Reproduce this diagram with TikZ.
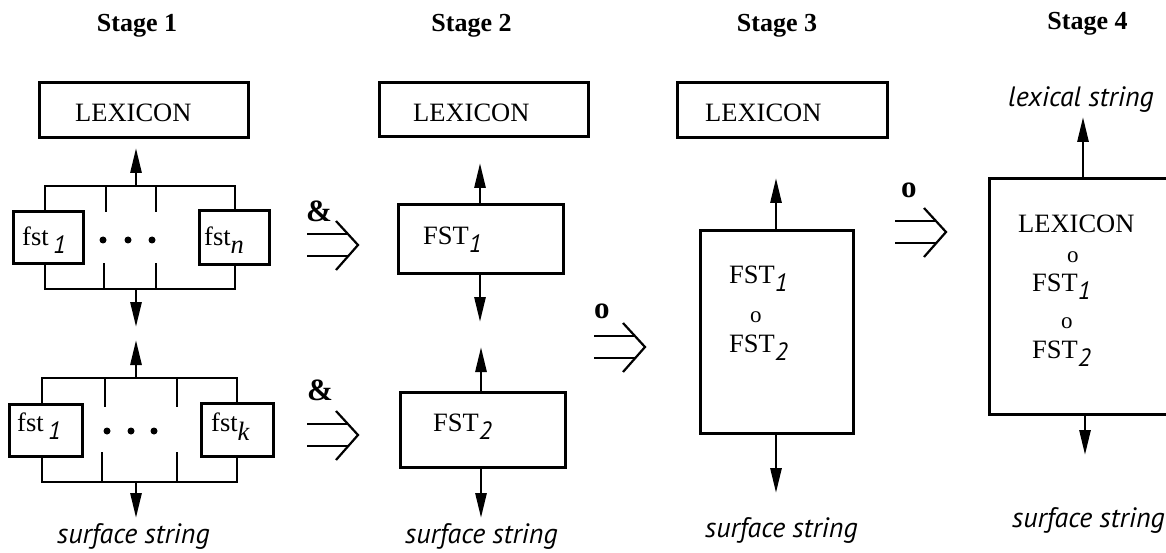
\documentclass[tikz,border=0pt]{standalone}
\usepackage{fontspec}
\setmainfont{Liberation Serif}
\newfontfamily\sansfam{PT Sans}
\usetikzlibrary{arrows.meta}
\newcommand\subs[1]{\raisebox{-8pt}{\fontsize{25}{28}\sansfam\itshape #1}}
\newcommand\subi[1]{\raisebox{-9pt}{\itshape #1}}
\tikzset{
  box/.style={draw, line width=3pt, inner sep=0pt, outer sep=0pt},
  wire/.style={line width=2.8pt},
  arr/.style={line width=2.8pt, -{Triangle[length=25pt,width=11pt]}},
  chev/.style={line width=2.2pt},
  txt/.style={anchor=base west, inner sep=0pt, font=\fontsize{26.5}{30}\selectfont},
  comp/.style={anchor=base west, inner sep=0pt, font=\fontsize{23}{27}\selectfont},
  lbl/.style={anchor=base, inner sep=0pt, font=\fontsize{26}{30}\selectfont\bfseries},
  oplbl/.style={anchor=base west, inner sep=0pt, font=\fontsize{31}{34}\selectfont\bfseries},
  str/.style={anchor=base west, inner sep=0pt, font=\fontsize{28}{32}\selectfont\sansfam\itshape},
  dot/.style={circle, fill, inner sep=0pt, minimum size=7pt},
  implies/.pic={
    \draw[chev] (-22,-24) -- (0,0) -- (-22,25);
    \draw[chev] (-51,-11) -- (-10,-11) (-51,11) -- (-10,11);
  }
}
\begin{document}
\begin{tikzpicture}[x=1pt,y=-1pt]
\clip (0,0) rectangle (1166,553);

% stage labels
\node[lbl] (s1) at (137,32) {Stage 1};
\node[lbl] (s2) at (471.5,32) {Stage 2};
\node[lbl] (s3) at (777,32) {Stage 3};
\node[lbl] (s4) at (1087.5,30) {Stage 4};

% ---------- Stage 1 ----------
\node[box, minimum width=209pt, minimum height=55pt] (lex1) at (143.5,110.5) {};
\node[txt] (lex1t) at (75,122) {LEXICON};

% upper group
\node[box, minimum width=70pt, minimum height=51pt] (fa1) at (48,237.5) {};
\node[box, minimum width=70pt, minimum height=53pt] (fb1) at (234,237.5) {};
\node[txt] (fa1t) at (22,245) {fst\,\subs{1}};
\node[txt] (fb1t) at (204,245) {fst\subi{n}};
\coordinate (u1l) at (45,186); \coordinate (u1r) at (235,186);
\coordinate (d1l) at (45,289); \coordinate (d1r) at (235,289);
\draw[wire] (fa1.north -| u1l) -- (u1l) -- (u1r) -- (fb1.north -| u1r);
\draw[wire] (fa1.south -| d1l) -- (d1l) -- (d1r) -- (fb1.south -| d1r);
\draw[wire] (106,186) -- (106,212) (156,186) -- (156,212)
            (104,263) -- (104,289) (156,263) -- (156,289);
\node[dot] (g1a) at (103,240) {};
\node[dot] (g1b) at (128,240) {};
\node[dot] (g1c) at (152,240) {};
\coordinate (m1t) at (136,186); \coordinate (e1t) at (136,148);
\coordinate (m1b) at (136,289); \coordinate (e1b) at (136,327);
\draw[arr] (m1t) -- (e1t);
\draw[arr] (m1b) -- (e1b);

% lower group
\node[box, minimum width=73pt, minimum height=52pt] (fa2) at (45.5,430) {};
\node[box, minimum width=72pt, minimum height=53pt] (fb2) at (237,429.5) {};
\node[txt] (fa2t) at (17,431) {fst\,\subs{1}};
\node[txt] (fb2t) at (211,431) {fst\subi{k}};
\coordinate (u2l) at (42,378); \coordinate (u2r) at (237,378);
\coordinate (d2l) at (42,482); \coordinate (d2r) at (237,482);
\draw[wire] (fa2.north -| u2l) -- (u2l) -- (u2r) -- (fb2.north -| u2r);
\draw[wire] (fa2.south -| d2l) -- (d2l) -- (d2r) -- (fb2.south -| d2r);
\draw[wire] (105,378) -- (105,407) (177,378) -- (177,407)
            (102,452) -- (102,482) (177,452) -- (177,482);
\node[dot] (g2a) at (107,431) {};
\node[dot] (g2b) at (131,431) {};
\node[dot] (g2c) at (154,431) {};
\coordinate (m2t) at (136,378); \coordinate (e2t) at (136,340);
\coordinate (m2b) at (136,482); \coordinate (e2b) at (136,518);
\draw[arr] (m2t) -- (e2t);
\draw[arr] (m2b) -- (e2b);
\node[str] (ss1) at (57,543) {surface string};

% ---------- arrows 1 -> 2 ----------
\node[oplbl] (amp1) at (306,222) {\&};
\pic at (358,245) {implies};
\node[oplbl] (amp2) at (307,400) {\&};
\pic at (358,435) {implies};

% ---------- Stage 2 ----------
\node[box, minimum width=209pt, minimum height=54pt] (lex2) at (483.5,110) {};
\node[txt] (lex2t) at (413,122) {LEXICON};
\node[box, minimum width=165pt, minimum height=68pt] (F1) at (480.5,239) {};
\node[txt] (F1t) at (423,244) {FST\subs{1}};
\node[box, minimum width=165pt, minimum height=75pt] (F2) at (482.5,429.5) {};
\node[txt] (F2t) at (433,431) {FST\subs{2}};
\coordinate (e3t) at (480,163); \coordinate (e3b) at (480,322);
\coordinate (e4t) at (481,347); \coordinate (e4b) at (481,518);
\draw[arr] (F1.north -| e3t) -- (e3t);
\draw[arr] (F1.south -| e3b) -- (e3b);
\draw[arr] (F2.north -| e4t) -- (e4t);
\draw[arr] (F2.south -| e4b) -- (e4b);
\node[str] (ss2) at (405,543) {surface string};

% ---------- arrow 2 -> 3 ----------
\node[oplbl] (o1) at (594,318) {o};
\pic at (645,347) {implies};

% ---------- Stage 3 ----------
\node[box, minimum width=210pt, minimum height=55pt] (lex3) at (782,110.5) {};
\node[txt] (lex3t) at (705,122) {LEXICON};
\node[box, minimum width=153pt, minimum height=202pt] (B3) at (776.5,332) {};
\node[txt] (B3a) at (729,283) {FST\subs{1}};
\node[comp] (B3o) at (750,322) {o};
\node[txt] (B3b) at (729,352) {FST\subs{2}};
\coordinate (e5t) at (776,178); \coordinate (e5b) at (776,493);
\draw[arr] (B3.north -| e5t) -- (e5t);
\draw[arr] (B3.south -| e5b) -- (e5b);
\node[str] (ss3) at (705,537) {surface string};

% ---------- arrow 3 -> 4 ----------
\node[oplbl] (o2) at (901,198) {o};
\pic at (946,232) {implies};

% ---------- Stage 4 ----------
\node[box, minimum width=196pt, minimum height=235pt] (B4) at (1087,296.5) {};
\node[txt] (B4a) at (1018,233) {LEXICON};
\node[comp] (B4o1) at (1067,262) {o};
\node[txt] (B4b) at (1032,291) {FST\subs{1}};
\node[comp] (B4o2) at (1061,328) {o};
\node[txt] (B4c) at (1032,358) {FST\subs{2}};
\coordinate (e6t) at (1083,117); \coordinate (e6b) at (1085,455);
\draw[arr] (B4.north -| e6t) -- (e6t);
\draw[arr] (B4.south -| e6b) -- (e6b);
\node[str] (lx4) at (1008,107) {lexical string};
\node[str] (ss4) at (1012,527) {surface string};
\end{tikzpicture}
\end{document}
